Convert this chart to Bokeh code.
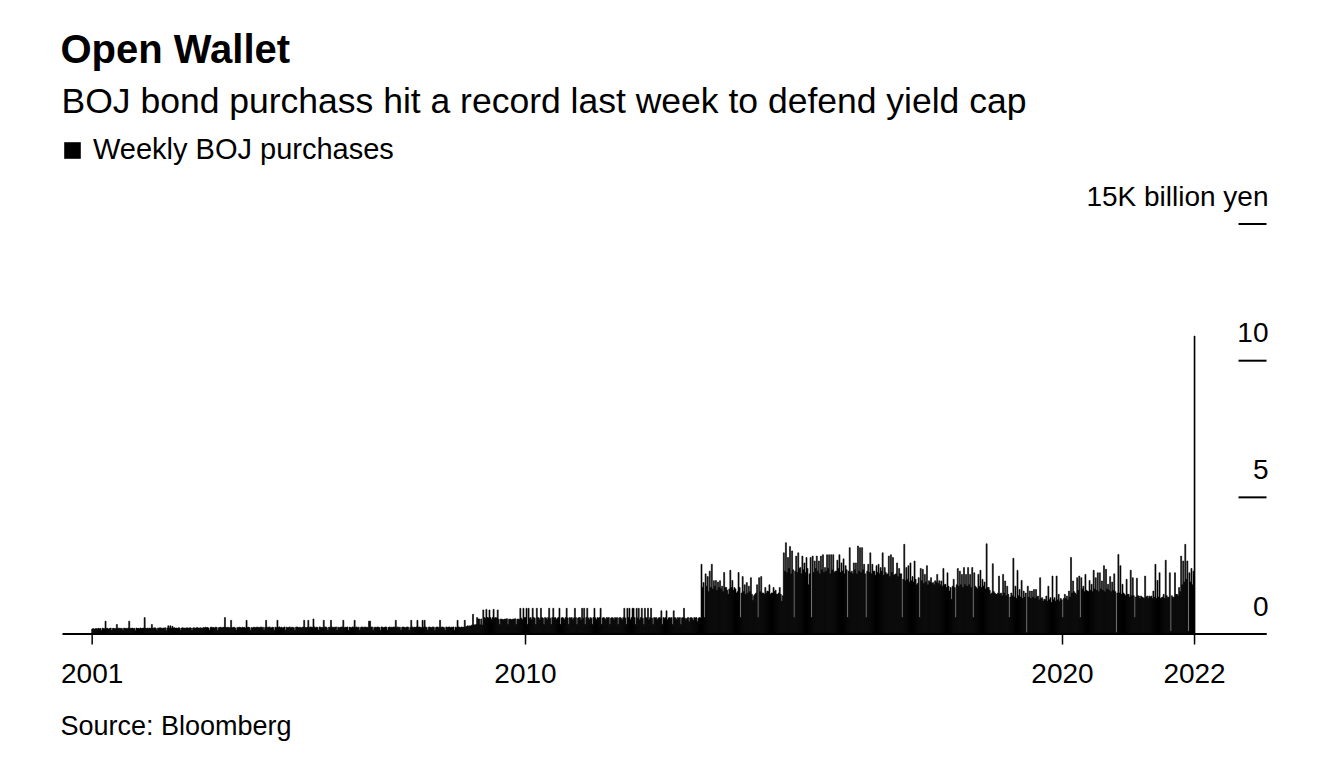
import pandas as pd
from bokeh.plotting import figure
from bokeh.models import Range1d, Legend, LegendItem, ColumnDataSource
from bokeh.core.properties import value
from bokeh.embed import file_html
from bokeh.resources import INLINE

# ---------------- data (weekly BOJ purchases, K billion yen) ----------------
LAST_WEEK = "2022-06-17"
SERIES_NAME = "Weekly BOJ purchases"
TITLE = "Open Wallet"
SUBTITLE = "BOJ bond purchass hit a record last week to defend yield cap"
SOURCE = "Source: Bloomberg"

w2001 = [0.18, 0.20, 0.17, 0.19]
w2002 = [0.20, 0.18, 0.21, 0.19, 0.20, 0.12, 0.21, 0.20, 0.19, 0.47,
         0.20, 0.21, 0.18, 0.20, 0.22, 0.13, 0.20, 0.21, 0.19, 0.20,
         0.35, 0.20, 0.22, 0.19, 0.21, 0.20, 0.14, 0.22, 0.20, 0.21,
         0.19, 0.22, 0.47, 0.21, 0.20, 0.22, 0.19, 0.21, 0.12, 0.22,
         0.20, 0.21, 0.19, 0.22, 0.20, 0.21, 0.22, 0.60, 0.21, 0.20,
         0.22, 0.19]
w2003 = [0.22, 0.20, 0.35, 0.21, 0.22, 0.23, 0.20, 0.13, 0.22, 0.21,
         0.23, 0.22, 0.20, 0.22, 0.21, 0.23, 0.12, 0.22, 0.30, 0.22,
         0.30, 0.21, 0.28, 0.22, 0.23, 0.21, 0.22, 0.20, 0.23, 0.22,
         0.14, 0.22, 0.23, 0.21, 0.22, 0.20, 0.23, 0.22, 0.21, 0.23,
         0.22, 0.13, 0.22, 0.23, 0.21, 0.22, 0.24, 0.22, 0.21, 0.23,
         0.22, 0.20]
w2004 = [0.24, 0.22, 0.25, 0.23, 0.24, 0.22, 0.14, 0.24, 0.25, 0.23,
         0.24, 0.22, 0.25, 0.24, 0.13, 0.23, 0.24, 0.25, 0.22, 0.24,
         0.25, 0.60, 0.24, 0.23, 0.25, 0.22, 0.24, 0.50, 0.23, 0.24,
         0.25, 0.22, 0.14, 0.24, 0.23, 0.25, 0.24, 0.22, 0.25, 0.23,
         0.24, 0.22, 0.50, 0.24, 0.25, 0.23, 0.13, 0.24, 0.22, 0.25,
         0.24, 0.23, 0.25]
w2005 = [0.25, 0.23, 0.24, 0.26, 0.22, 0.25, 0.14, 0.24, 0.50, 0.25,
         0.23, 0.26, 0.24, 0.22, 0.25, 0.24, 0.13, 0.25, 0.23, 0.50,
         0.24, 0.26, 0.23, 0.25, 0.22, 0.24, 0.26, 0.14, 0.25, 0.23,
         0.24, 0.26, 0.22, 0.25, 0.24, 0.23, 0.13, 0.25, 0.26, 0.24,
         0.23, 0.25, 0.22, 0.24, 0.26, 0.50, 0.24, 0.23, 0.25, 0.50,
         0.24, 0.26]
w2006 = [0.25, 0.24, 0.55, 0.26, 0.23, 0.25, 0.24, 0.14, 0.26, 0.25,
         0.23, 0.24, 0.50, 0.25, 0.26, 0.23, 0.13, 0.25, 0.24, 0.50,
         0.26, 0.23, 0.25, 0.24, 0.26, 0.14, 0.25, 0.23, 0.24, 0.26,
         0.25, 0.50, 0.23, 0.25, 0.24, 0.26, 0.13, 0.25, 0.24, 0.23,
         0.26, 0.25, 0.50, 0.24, 0.26, 0.23, 0.25, 0.14, 0.24, 0.26,
         0.25, 0.23]
w2007 = [0.26, 0.24, 0.25, 0.23, 0.47, 0.47, 0.25, 0.26, 0.14, 0.24,
         0.25, 0.23, 0.26, 0.25, 0.24, 0.13, 0.26, 0.25, 0.23, 0.24,
         0.26, 0.25, 0.14, 0.24, 0.26, 0.23, 0.25, 0.24, 0.26, 0.25,
         0.50, 0.24, 0.26, 0.23, 0.25, 0.13, 0.24, 0.26, 0.25, 0.23,
         0.24, 0.26, 0.25, 0.14, 0.24, 0.50, 0.26, 0.23, 0.25, 0.24,
         0.26, 0.50]
w2008 = [0.25, 0.26, 0.24, 0.23, 0.50, 0.25, 0.50, 0.26, 0.24, 0.14,
         0.25, 0.26, 0.23, 0.24, 0.26, 0.25, 0.13, 0.24, 0.26, 0.25,
         0.23, 0.50, 0.24, 0.26, 0.25, 0.23, 0.14, 0.26, 0.24, 0.25,
         0.26, 0.23, 0.25, 0.24, 0.26, 0.13, 0.25, 0.24, 0.50, 0.26,
         0.25, 0.23, 0.26, 0.24, 0.25, 0.50, 0.26, 0.28, 0.30, 0.27,
         0.30, 0.29]
w2009 = [0.33, 0.72, 0.34, 0.32, 0.35, 0.60, 0.55, 0.55, 0.34, 0.55,
         0.33, 0.88, 0.60, 0.58, 0.90, 0.60, 0.59, 0.88, 0.60, 0.52,
         0.60, 0.90, 0.58, 0.60, 0.59, 0.88, 0.54, 0.35, 0.55, 0.54,
         0.53, 0.52, 0.55, 0.54, 0.56, 0.35, 0.54, 0.55, 0.53, 0.52,
         0.55, 0.54, 0.56, 0.35, 0.54, 0.55, 0.53, 0.94, 0.58, 0.52,
         0.94, 0.60]
w2010 = [0.60, 0.94, 0.35, 0.94, 0.58, 0.60, 0.52, 0.94, 0.60, 0.58,
         0.35, 0.94, 0.60, 0.59, 0.52, 0.94, 0.60, 0.58, 0.35, 0.60,
         0.59, 0.52, 0.60, 0.94, 0.58, 0.35, 0.60, 0.94, 0.59, 0.60,
         0.52, 0.58, 0.60, 0.94, 0.35, 0.59, 0.60, 0.58, 0.52, 0.60,
         0.94, 0.59, 0.35, 0.60, 0.58, 0.60, 0.52, 0.59, 0.94, 0.60,
         0.35, 0.58, 0.60]
w2011 = [0.60, 0.52, 0.94, 0.58, 0.94, 0.35, 0.60, 0.94, 0.59, 0.52,
         0.60, 0.58, 0.35, 0.60, 0.94, 0.59, 0.52, 0.60, 0.58, 0.60,
         0.94, 0.35, 0.59, 0.60, 0.58, 0.52, 0.60, 0.59, 0.60, 0.35,
         0.58, 0.60, 0.59, 0.52, 0.60, 0.58, 0.60, 0.35, 0.59, 0.60,
         0.58, 0.52, 0.60, 0.94, 0.59, 0.35, 0.94, 0.60, 0.94, 0.52,
         0.60, 0.94]
w2012 = [0.94, 0.60, 0.35, 0.94, 0.59, 0.94, 0.52, 0.60, 0.94, 0.58,
         0.35, 0.94, 0.60, 0.59, 0.94, 0.52, 0.60, 0.94, 0.58, 0.35,
         0.60, 0.59, 0.60, 0.52, 0.58, 0.60, 0.59, 0.85, 0.35, 0.60,
         0.58, 0.60, 0.85, 0.52, 0.59, 0.60, 0.58, 0.60, 0.35, 0.85,
         0.60, 0.59, 0.52, 0.60, 0.58, 0.60, 0.35, 0.59, 0.60, 0.94,
         0.58, 0.52]
w2013 = [0.58, 0.60, 0.45, 0.59, 0.60, 0.58, 0.50, 0.60, 0.59, 0.60,
         0.45, 0.58, 0.60, 0.59, 2.55, 1.70, 1.88, 0.60, 2.20, 1.75,
         2.10, 1.55, 2.30, 1.70, 2.55, 1.65, 1.95, 1.75, 1.96, 1.60,
         1.90, 1.70, 1.95, 1.65, 1.75, 1.55, 2.25, 1.70, 1.70, 1.60,
         1.45, 1.65, 2.33, 1.70, 1.96, 1.60, 1.70, 1.65, 1.50, 1.55,
         2.25, 1.70]
w2014 = [0.60, 1.50, 2.10, 1.55, 1.80, 1.45, 1.88, 1.50, 1.75, 1.55,
         2.06, 1.45, 1.23, 1.40, 1.45, 1.50, 1.80, 0.60, 2.06, 1.55,
         2.10, 1.50, 1.50, 1.45, 1.70, 1.50, 1.57, 1.55, 1.80, 1.45,
         1.50, 1.50, 1.70, 1.55, 1.60, 1.45, 1.45, 1.50, 1.70, 1.45,
         1.20, 1.40, 2.97, 2.30, 3.34, 2.25, 2.80, 2.40, 3.20, 2.20,
         3.04, 2.35]
w2015 = [0.60, 2.30, 2.85, 2.25, 2.97, 2.40, 2.43, 2.20, 2.85, 2.35,
         2.60, 2.25, 2.80, 2.40, 1.80, 2.20, 2.80, 0.60, 2.85, 2.25,
         2.67, 2.40, 2.85, 2.30, 2.67, 2.20, 2.85, 2.35, 2.90, 2.25,
         2.43, 2.30, 2.90, 2.40, 2.90, 2.20, 2.90, 2.35, 2.90, 2.25,
         2.30, 2.30, 2.70, 2.40, 2.90, 2.25, 2.60, 2.30, 2.75, 2.20,
         2.50, 2.35]
w2016 = [0.60, 2.30, 3.16, 2.25, 2.30, 2.20, 2.60, 2.35, 2.60, 2.20,
         3.22, 2.30, 3.16, 2.25, 3.16, 2.35, 2.55, 2.20, 0.60, 2.30,
         2.55, 2.25, 2.97, 2.20, 2.55, 2.30, 2.30, 2.15, 2.50, 2.25,
         2.55, 2.20, 2.43, 2.30, 2.97, 2.15, 2.43, 2.25, 2.18, 2.20,
         2.85, 2.10, 2.90, 2.25, 2.80, 2.15, 2.18, 2.20, 2.60, 2.10,
         2.40, 2.20, 2.20]
w2017 = [0.60, 2.00, 3.28, 1.95, 2.43, 2.00, 2.50, 1.90, 2.60, 1.95,
         2.10, 1.90, 2.67, 2.00, 1.80, 1.85, 2.06, 0.60, 2.40, 1.95,
         2.37, 1.85, 2.18, 1.90, 2.50, 1.80, 1.95, 1.90, 2.06, 1.85,
         1.88, 1.80, 1.95, 1.90, 2.18, 1.85, 1.95, 1.80, 1.94, 1.75,
         2.40, 1.80, 1.82, 1.70, 2.24, 1.75, 1.57, 1.70, 1.27, 1.75,
         2.00, 1.70]
w2018 = [0.60, 1.80, 2.40, 1.75, 2.30, 1.80, 2.18, 1.70, 2.43, 1.80,
         2.18, 1.75, 2.43, 1.80, 2.18, 1.70, 2.43, 0.60, 2.24, 1.75,
         1.70, 1.65, 2.18, 1.75, 2.33, 1.70, 2.00, 1.75, 1.90, 1.65,
         3.30, 1.70, 1.70, 1.60, 1.45, 1.50, 2.57, 1.55, 1.50, 1.45,
         1.45, 1.50, 2.12, 1.45, 1.50, 1.40, 2.18, 1.50, 1.94, 1.40,
         1.75, 1.45]
w2019 = [0.60, 1.35, 1.50, 1.40, 2.77, 1.35, 1.75, 1.30, 2.33, 1.40,
         1.63, 1.35, 1.96, 1.30, 1.57, 1.35, 1.50, 0.05, 1.75, 1.35,
         1.57, 1.30, 1.57, 1.35, 1.63, 1.30, 1.63, 1.35, 1.39, 1.25,
         2.06, 1.30, 1.33, 1.20, 1.27, 1.25, 1.39, 1.20, 1.75, 1.25,
         1.33, 1.15, 2.12, 1.25, 1.33, 1.20, 2.12, 1.25, 1.45, 1.20,
         1.30, 1.25]
w2020 = [0.60, 1.30, 1.45, 1.30, 1.39, 1.25, 1.57, 1.35, 2.80, 1.50,
         1.94, 1.55, 1.50, 1.45, 2.06, 1.60, 2.12, 0.60, 2.06, 1.65,
         1.75, 1.55, 2.18, 1.60, 1.57, 1.55, 1.96, 1.60, 1.82, 1.55,
         2.33, 1.65, 2.06, 1.60, 2.24, 1.55, 2.24, 1.65, 1.94, 1.60,
         2.50, 1.55, 2.37, 1.65, 1.82, 1.60, 2.10, 1.55, 1.90, 1.60,
         2.20, 1.55]
w2021 = [0.05, 1.50, 2.91, 1.50, 2.50, 1.45, 1.82, 1.50, 1.45, 1.40,
         2.00, 1.45, 1.45, 1.35, 2.33, 1.40, 2.06, 1.40, 0.60, 1.35,
         2.04, 1.40, 1.39, 1.30, 1.39, 1.35, 1.33, 1.30, 2.12, 1.35,
         1.39, 1.30, 1.39, 1.35, 1.39, 1.30, 1.57, 1.35, 2.55, 1.30,
         1.96, 1.35, 2.24, 1.30, 1.33, 1.35, 1.45, 1.30, 2.70, 1.40,
         1.33, 1.35, 2.24]
w2022 = [0.10, 1.40, 1.33, 1.35, 2.24, 1.45, 1.45, 1.40, 1.70, 1.55,
         2.85, 1.80, 2.67, 1.90, 3.28, 2.00, 2.67, 0.10, 2.24, 1.90,
         2.40, 1.80, 2.30, 10.90]

Y_TICKS = [0, 5, 10, 15]
Y_LABELS = ["0", "5", "10", "15K billion yen"]
X_TICK_DATES_INNER = ["2010-01-01", "2020-01-01"]

values = (w2001 + w2002 + w2003 + w2004 + w2005 + w2006 + w2007 + w2008 + w2009 +
          w2010 + w2011 + w2012 + w2013 + w2014 + w2015 + w2016 + w2017 + w2018 +
          w2019 + w2020 + w2021 + w2022)
dates = pd.date_range(end=LAST_WEEK, periods=len(values), freq="W-FRI")
src = ColumnDataSource(dict(date=dates, value=values))

# ---------------- layout (pixel anchors of the canvas) ----------------
W, H = 1322, 772
DAY_MS = 24 * 3600 * 1000
WEEK_MS = 7 * DAY_MS
ANCHOR_DATE = pd.Timestamp("2010-01-01")
ANCHOR_PX = 525.0
PX_PER_DAY = 537.0 / 3652.0
ZERO_PY = 633.5
PX_PER_UNIT = 27.33


def ms(t):
    return float(pd.Timestamp(t).value // 10**6)


def px_to_x(px):
    return ms(ANCHOR_DATE) + (px - ANCHOR_PX) / PX_PER_DAY * DAY_MS


def py_to_y(py):
    return (ZERO_PY - py) / PX_PER_UNIT


FONT = "Liberation Sans"

p = figure(width=W, height=H, title=None, x_axis_location=None, y_axis_location=None,
           x_range=Range1d(px_to_x(0), px_to_x(W)), y_range=Range1d(py_to_y(H), py_to_y(0)),
           toolbar_location=None, output_backend="svg",
           min_border=0, min_border_left=0, min_border_right=0,
           min_border_top=0, min_border_bottom=0)
p.outline_line_color = None
p.background_fill_color = "white"
p.border_fill_color = "white"
p.grid.visible = False

r = p.vbar(x="date", top="value", width=WEEK_MS, bottom=0, source=src,
           fill_color="black", line_color="black", line_width=0.6)

# baseline
p.segment(x0=[px_to_x(62)], x1=[px_to_x(1266)], y0=[0], y1=[0],
          line_color="black", line_width=2)

# x ticks and labels
x_ticks = [dates[0]] + [pd.Timestamp(d) for d in X_TICK_DATES_INNER] + [dates[-1]]
x_tick_ms = [ms(t) for t in x_ticks]
x_tick_labels = [str(t.year) for t in x_ticks]
p.segment(x0=x_tick_ms, x1=x_tick_ms, y0=[0] * len(x_ticks), y1=[py_to_y(644)] * len(x_ticks),
          line_color="black", line_width=1.5)
p.text(x=x_tick_ms, y=[py_to_y(673)] * len(x_ticks), text=x_tick_labels,
       text_font=value(FONT), text_font_size="28px", text_color="black",
       text_align="center", text_baseline="middle")

# y ticks (right side) and labels above them
p.segment(x0=[px_to_x(1238)] * len(Y_TICKS), x1=[px_to_x(1266)] * len(Y_TICKS),
          y0=Y_TICKS, y1=Y_TICKS, line_color="black", line_width=2)
p.text(x=[px_to_x(1268)] * len(Y_TICKS), y=[t + 28 / PX_PER_UNIT for t in Y_TICKS], text=Y_LABELS,
       text_font=value(FONT), text_font_size="28px", text_color="black",
       text_align="right", text_baseline="middle")

# title, subtitle, source
p.text(x=[px_to_x(60)], y=[py_to_y(48)], text=[TITLE], text_font=value(FONT),
       text_font_style="bold", text_font_size="40px", text_color="black",
       text_align="left", text_baseline="middle")
p.text(x=[px_to_x(61)], y=[py_to_y(100)], text=[SUBTITLE], text_font=value(FONT),
       text_font_size="35.5px", text_color="black",
       text_align="left", text_baseline="middle")
p.text(x=[px_to_x(60)], y=[py_to_y(725)], text=[SOURCE], text_font=value(FONT),
       text_font_size="27px", text_color="black",
       text_align="left", text_baseline="middle")

legend = Legend(items=[LegendItem(label=SERIES_NAME, renderers=[r])],
                location=(62, H - 166), orientation="horizontal", padding=0, margin=0,
                spacing=0, glyph_width=20, glyph_height=20, label_standoff=11,
                label_text_font=FONT, label_text_font_size="29px", label_height=32,
                label_text_color="black",
                border_line_color=None, background_fill_alpha=0)
p.add_layout(legend)

open("out.html", "w").write(file_html(p, INLINE))
